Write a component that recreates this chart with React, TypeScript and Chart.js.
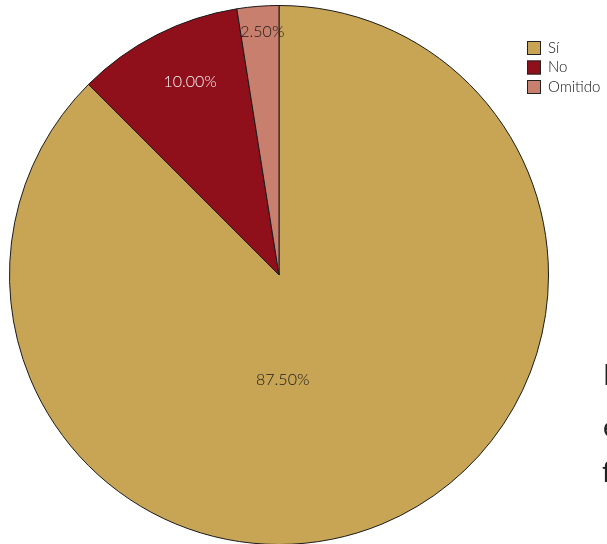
import React, { useEffect, useRef } from "react";
import { Chart, registerables } from "chart.js";

Chart.register(...registerables);

const categories = ["Sí", "No", "Omitido"];
const values = [87.5, 10.0, 2.5];
const valueLabels = ["87.50%", "10.00%", "2.50%"];
const colors = ["#C8A555", "#8F101B", "#C97F6E"];
const labelColors = ["#1a1a1a", "#f4f4f4", "#1a1a1a"];
const labelRadial = [0.39, 0.79, 0.905];
const labelAngleFrac = 0.565;
const edgeLetters = ["I", "e", "f"];

const FONT = "Lato, 'Open Sans', sans-serif";

const labelPlugin = {
  id: "sliceLabels",
  afterDatasetsDraw(chart: any) {
    const ctx = chart.ctx;
    const meta = chart.getDatasetMeta(0);
    ctx.save();
    ctx.font = `300 16px ${FONT}`;
    ctx.textAlign = "center";
    ctx.textBaseline = "middle";
    meta.data.forEach((arc: any, i: number) => {
      const { x, y, startAngle, endAngle, outerRadius } = arc.getProps(
        ["x", "y", "startAngle", "endAngle", "outerRadius"],
        true
      );
      const a = startAngle + (endAngle - startAngle) * labelAngleFrac;
      const r = outerRadius * labelRadial[i];
      ctx.fillStyle = labelColors[i];
      ctx.fillText(valueLabels[i], x + Math.cos(a) * r, y + Math.sin(a) * r);
    });
    ctx.restore();
  },
};

const legendPlugin = {
  id: "customLegend",
  afterDraw(chart: any) {
    const ctx = chart.ctx;
    ctx.save();
    const bx = 527;
    const by = 41;
    const step = 19.5;
    const size = 14;
    ctx.font = `300 15px ${FONT}`;
    ctx.textBaseline = "middle";
    ctx.textAlign = "left";
    categories.forEach((c, i) => {
      const top = by + i * step;
      ctx.fillStyle = colors[i];
      ctx.fillRect(bx, top, size, size);
      ctx.strokeStyle = "#222";
      ctx.lineWidth = 1;
      ctx.strokeRect(bx + 0.5, top + 0.5, size - 1, size - 1);
      ctx.fillStyle = "#111";
      ctx.fillText(c, bx + 21, top + size / 2);
    });
    ctx.restore();
  },
};

const edgeTops = [360, 412, 457];
const edgeLefts = [603, 603, 602];

export default function App() {
  const ref = useRef<HTMLCanvasElement | null>(null);
  useEffect(() => {
    document.body.style.margin = "0";
    const chart = new Chart(ref.current as HTMLCanvasElement, {
      type: "pie",
      data: {
        labels: categories,
        datasets: [
          {
            data: values,
            backgroundColor: colors,
            borderColor: "#1a1a1a",
            borderWidth: 1,
          },
        ],
      },
      options: {
        responsive: false,
        animation: false,
        layout: { padding: { left: 9, right: 58, top: 5, bottom: 15 } },
        plugins: {
          legend: { display: false },
          tooltip: { enabled: false },
        },
      },
      plugins: [labelPlugin, legendPlugin],
    });
    return () => chart.destroy();
  }, []);
  return (
    <div style={{ position: "relative", width: 607, height: 544, overflow: "hidden", background: "#fff" }}>
      <canvas ref={ref} width={607} height={560} style={{ position: "absolute", left: 0, top: 0 }} />
      {edgeLetters.map((ch, i) => (
        <span
          key={i}
          style={{
            position: "absolute",
            left: edgeLefts[i],
            top: edgeTops[i],
            fontFamily: FONT,
            fontSize: 28,
            lineHeight: "28px",
            color: "#222",
          }}
        >
          {ch}
        </span>
      ))}
    </div>
  );
}
